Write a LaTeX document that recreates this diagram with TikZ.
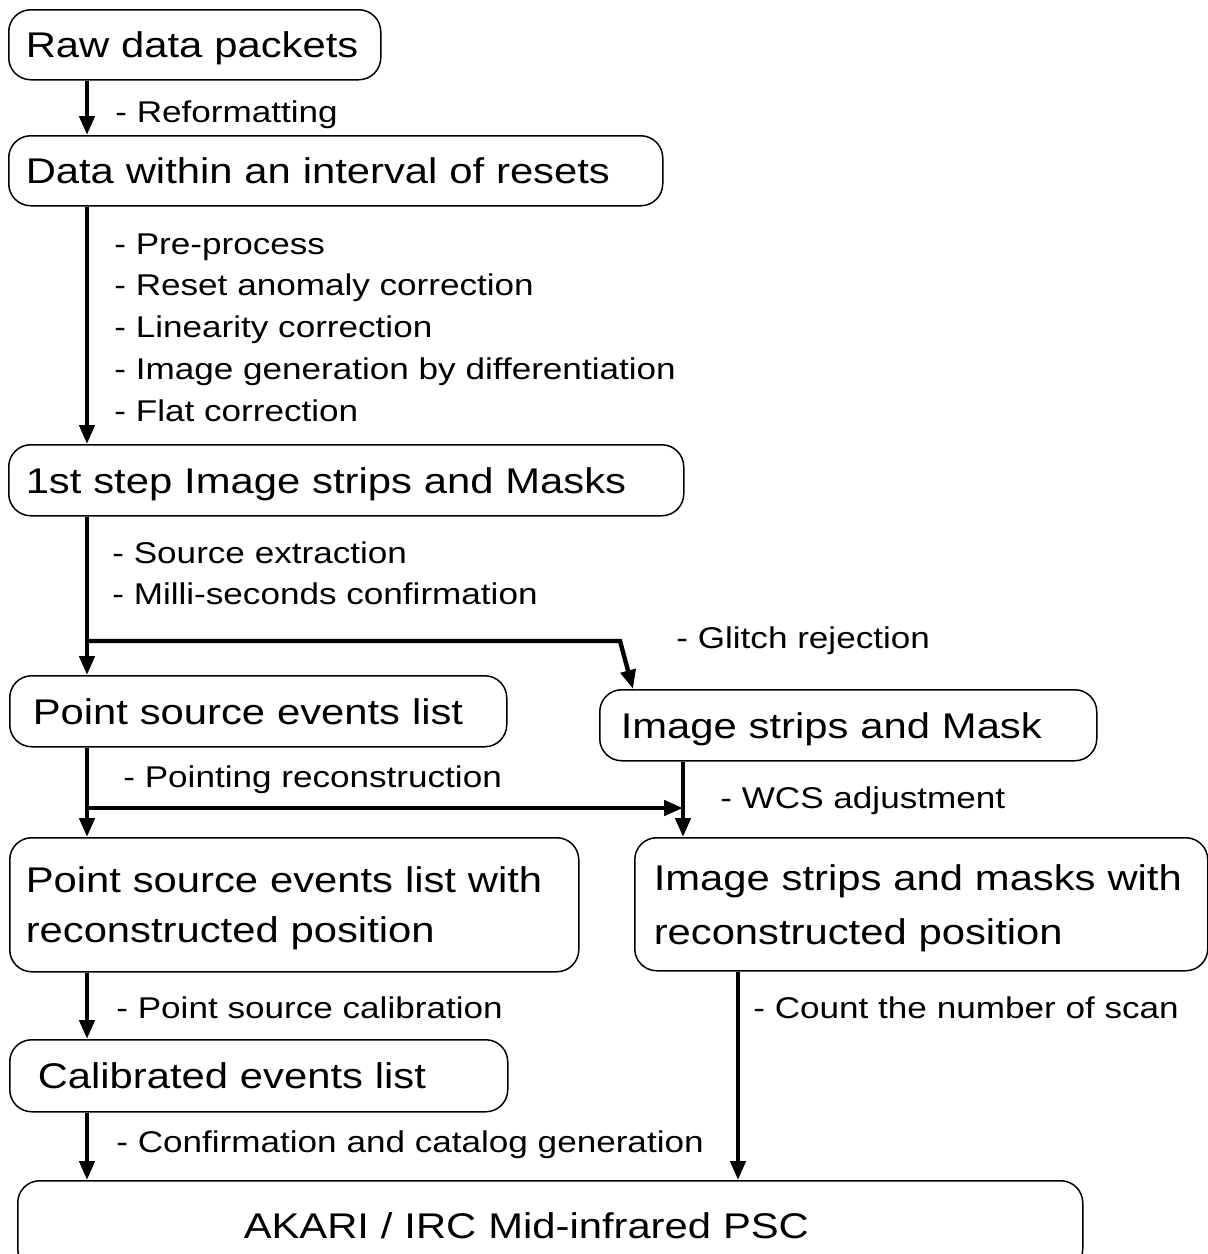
\documentclass[tikz,border=0pt]{standalone}
\usepackage{fontspec}
\setmainfont{Liberation Sans}[FakeStretch=1.17]
\usetikzlibrary{arrows.meta}

\newcommand{\stagefont}{\fontsize{17.85pt}{25pt}\selectfont}
\newcommand{\notefont}{\fontsize{15pt}{20.9pt}\selectfont}

\tikzset{
  stage/.style={draw, line width=0.75pt, rounded corners=11pt, anchor=north west,
    align=left, inner ysep=0pt, text depth=0pt, font=\stagefont},
  note/.style={inner sep=0pt, align=left, font=\notefont},
  flow/.style={line width=2.2pt, -{Triangle[length=9.5pt,width=7.5pt]}}
}

\begin{document}
\begin{tikzpicture}[x=0.5pt,y=-0.5pt]
				\clip (0,0) rectangle (1208,1254);

				% stages
				\node[stage, inner xsep=8.5pt, text width=169pt, minimum height=35pt] (raw) at (8,9) {Raw data packets};
				\node[stage, inner xsep=8.5pt, text width=310pt, minimum height=35pt] (reset) at (8,135) {Data within an interval of resets};
				\node[stage, inner xsep=8.5pt, text width=320.5pt, minimum height=35.5pt] (strip1) at (8,444) {1st step Image strips and Masks};
				\node[stage, inner xsep=11.5pt, text width=225.5pt, minimum height=35.5pt] (events) at (9,675) {Point source events list};
				\node[stage, inner xsep=10.5pt, text width=227.5pt, minimum height=35.5pt] (imgmask) at (599,689) {Image strips and Mask};
				\node[stage, inner xsep=8pt, text width=268.5pt, minimum height=67pt, text depth=25pt] (eventpos) at (9,837) {Point source events list with\\reconstructed position};
				\node[stage, inner xsep=9.5pt, text width=267.5pt, minimum height=66.5pt, text depth=27pt, font=\fontsize{17.85pt}{27pt}\selectfont] (imgpos) at (634,837) {Image strips and masks with\\reconstructed position};
				\node[stage, inner xsep=14pt, text width=221pt, minimum height=36pt] (calib) at (9,1039) {Calibrated events list};
				\node[stage, inner xsep=113pt, text width=306.5pt, minimum height=45pt] (psc) at (17,1180) {AKARI / IRC Mid-infrared PSC};

				% columns of the arrows
				\coordinate (colL) at (87,0);
				\coordinate (colG) at (633,0);
				\coordinate (colM) at (683,0);
				\coordinate (colR) at (738,0);
				\coordinate (glitchA) at (87,641);
				\coordinate (glitchB) at (620,641);
				\coordinate (pointA) at (87,808);

				% arrows
				\draw[flow] (raw.south -| colL) -- (reset.north -| colL);
				\draw[flow] (reset.south -| colL) -- (strip1.north -| colL);
				\draw[flow] (strip1.south -| colL) -- (events.north -| colL);
				\draw[flow] (glitchA) -- (glitchB) -- (imgmask.north -| colG);
				\draw[flow] (events.south -| colL) -- (eventpos.north -| colL);
				\draw[flow] (pointA) -- (pointA -| colM);
				\draw[flow] (imgmask.south -| colM) -- (imgpos.north -| colM);
				\draw[flow] (eventpos.south -| colL) -- (calib.north -| colL);
				\draw[flow] (calib.south -| colL) -- (psc.north -| colL);
				\draw[flow] (imgpos.south -| colR) -- (psc.north -| colR);

				% processing steps
				\node[note, anchor=base west] (reformat) at (115,122) {- Reformatting};
				\node[note, anchor=north west] (preproc) at (114,233) {- Pre-process\\- Reset anomaly correction\\- Linearity correction\\- Image generation by differentiation\\- Flat correction};
				\node[note, anchor=north west] (extract) at (112,541) {- Source extraction\\- Milli-seconds confirmation};
				\node[note, anchor=base west] (glitch) at (676,648) {- Glitch rejection};
				\node[note, anchor=base west] (pointing) at (123,787) {- Pointing reconstruction};
				\node[note, anchor=base west] (wcs) at (720,808) {- WCS adjustment};
				\node[note, anchor=base west] (pscal) at (116,1018) {- Point source calibration};
				\node[note, anchor=base west] (count) at (753,1018) {- Count the number of scan};
				\node[note, anchor=base west] (confirm) at (116,1152) {- Confirmation and catalog generation};
\end{tikzpicture}
\end{document}
